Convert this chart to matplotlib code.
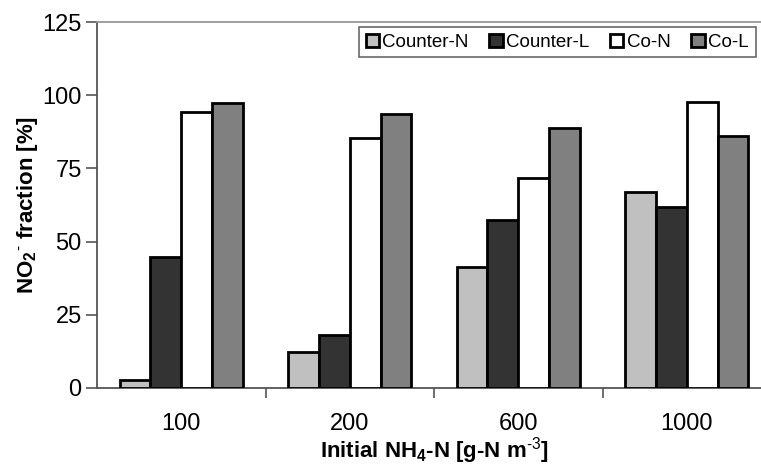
import numpy as np
import matplotlib
matplotlib.use("Agg")
import matplotlib.pyplot as plt
from matplotlib.ticker import FixedLocator

plt.rcParams['font.family'] = ['Liberation Sans', 'DejaVu Sans']
plt.rcParams['mathtext.fontset'] = 'custom'
plt.rcParams['mathtext.rm'] = 'Liberation Sans'
plt.rcParams['mathtext.bf'] = 'Liberation Sans:bold'
plt.rcParams['mathtext.default'] = 'bf'

# dati
concentrazioni = ["100", "200", "600", "1000"]
serie = ["Counter-N", "Counter-L", "Co-N", "Co-L"]
counter_n = [2.8, 12.2, 41.3, 66.9]
counter_l = [44.6, 18.0, 57.3, 61.8]
co_n = [94.2, 85.3, 71.6, 97.6]
co_l = [97.4, 93.6, 88.9, 86.1]
valori = [counter_n, counter_l, co_n, co_l]
colori = ["#c0c0c0", "#333333", "#ffffff", "#808080"]

W, H = 761, 466
fig = plt.figure(figsize=(W / 100, H / 100), dpi=100)
# area del grafico: parte destra tagliata come nell'originale
x0, x1, y0, y1 = 97, 771, 388, 22
ax = fig.add_axes([x0 / W, (H - y0) / H, (x1 - x0) / W, (y0 - y1) / H])

x = np.arange(len(concentrazioni))
larg = 0.183
for i, (nome, v, c) in enumerate(zip(serie, valori, colori)):
    ax.bar(x + (i - 1.5) * larg, v, larg, color=c, edgecolor="black",
           linewidth=2.0, label=nome, zorder=3)

ax.set_xlim(-0.5, len(concentrazioni) - 0.5)
ax.set_ylim(0, 125)
ax.set_yticks([0, 25, 50, 75, 100, 125])
ax.set_xticks(x)
ax.set_xticklabels(concentrazioni)
ax.xaxis.set_minor_locator(FixedLocator([0.5, 1.5, 2.5]))
ax.tick_params(axis="x", which="major", length=0, pad=18, labelsize=17)
ax.tick_params(axis="x", which="minor", length=7, width=1.2, color="#555555", direction="out")
ax.tick_params(axis="y", length=8, width=1.2, color="#555555", direction="out", labelsize=17, pad=3)

for s in ["left", "bottom"]:
    ax.spines[s].set_color("#555555")
    ax.spines[s].set_linewidth(1.3)
ax.spines["top"].set_color("#999999")
ax.spines["top"].set_linewidth(1.3)
ax.spines["right"].set_visible(False)

ax.set_ylabel(r"NO$_2$$^{\text{-}}$ fraction [%]", fontsize=16, fontweight="bold", labelpad=2)
ax.set_xlabel(r"Initial NH$_4$-N [g-N m$^{\text{-3}}$]", fontsize=16, fontweight="bold", labelpad=0)

leg = ax.legend(loc="upper left", bbox_to_anchor=((359 - x0) / (x1 - x0), 1 - 5 / (y0 - y1)),
                ncol=4, fontsize=13.5, frameon=True, fancybox=False, handlelength=0.7,
                handleheight=0.7, handletextpad=0.2, columnspacing=1.1, borderpad=0.35,
                borderaxespad=0)
leg.get_frame().set_edgecolor("#444444")
leg.get_frame().set_linewidth(1.2)
for h in leg.legend_handles:
    h.set_linewidth(2.0)

fig.savefig("out.png", dpi=100)
